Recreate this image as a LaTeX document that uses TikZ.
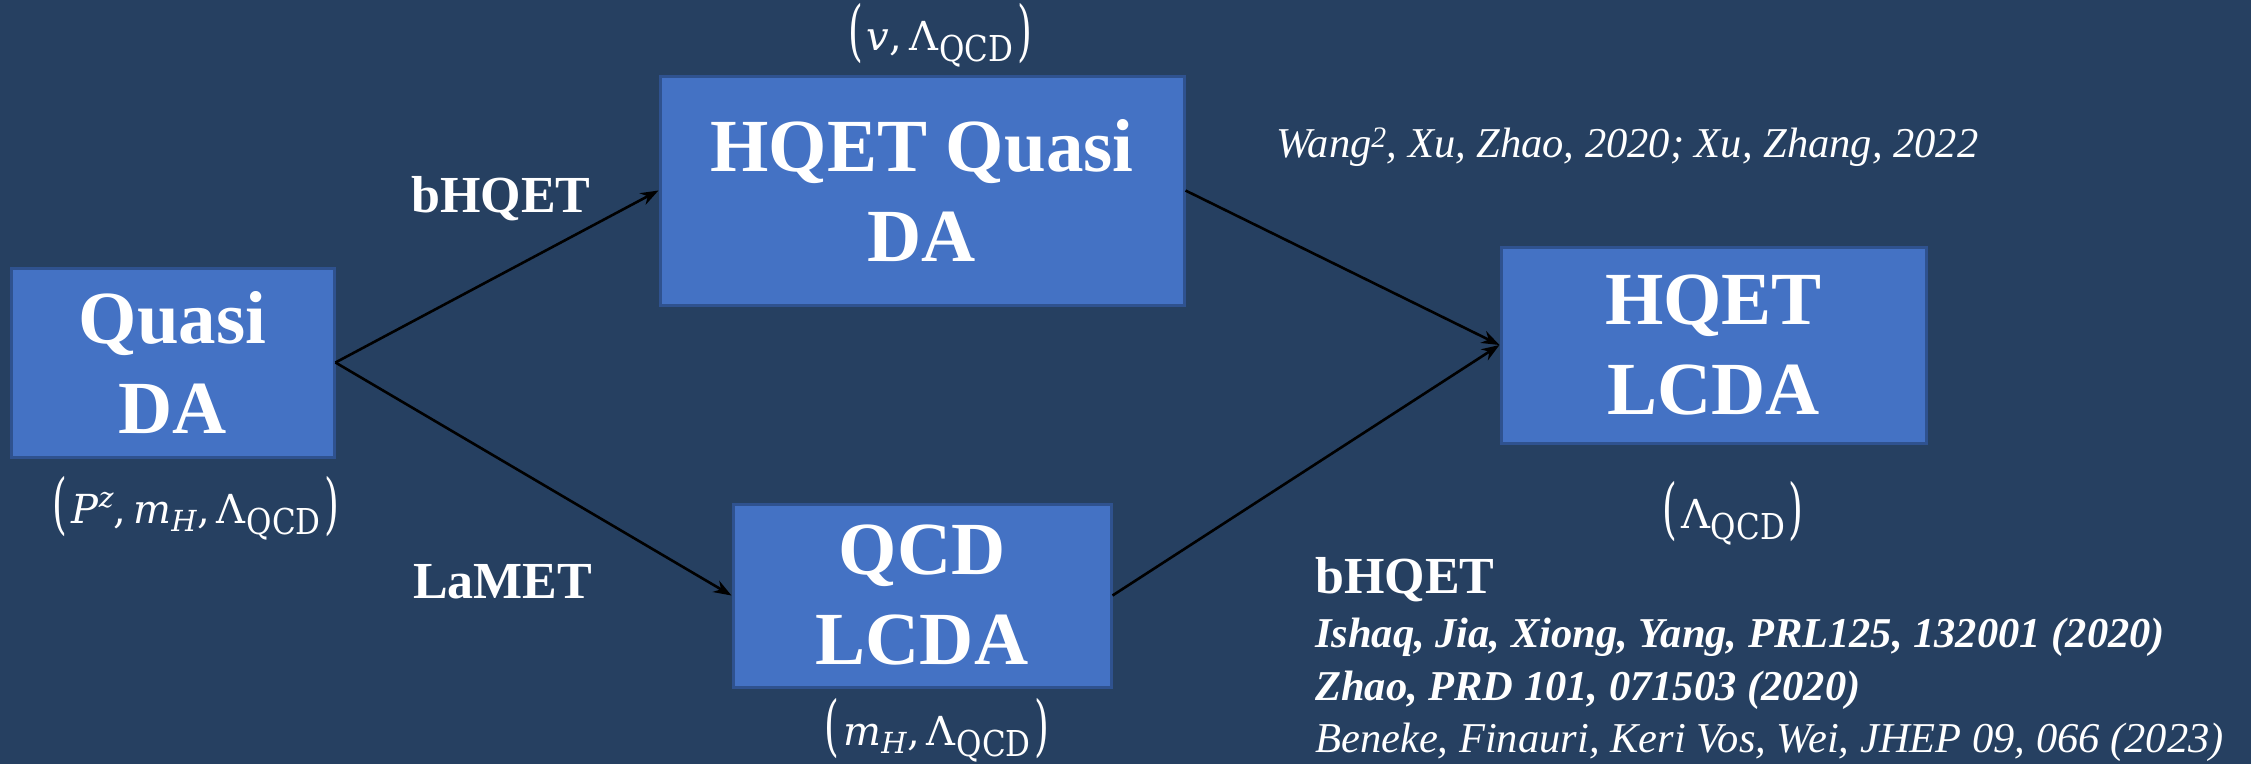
\documentclass[tikz,border=0pt]{standalone}
\usepackage{graphicx}
\usepackage{fontspec}
\setmainfont{Liberation Serif}
\newfontfamily\mathf{DejaVu Serif}
\usetikzlibrary{arrows.meta}
\definecolor{bg}{HTML}{264061}
\definecolor{boxfill}{HTML}{4472C4}
\definecolor{boxline}{HTML}{2F528F}
\newcommand\mylp{\raisebox{-3pt}{\scalebox{0.95}[1.65]{(}}\kern4pt}
\newcommand\myrp{\kern4pt\raisebox{-3pt}{\scalebox{0.95}[1.65]{)}}}
\newcommand\mysub[2][8pt]{\raisebox{-#1}{\fontsize{29}{29}\selectfont #2}}
\newcommand\mysup[1]{\raisebox{16pt}{\fontsize{28}{28}\selectfont #1}}
\newcommand\mycomma{,\kern7pt}
\newcommand\lqcd{Λ\kern1pt\raisebox{-11pt}{\scalebox{1}[1.15]{\fontsize{31}{31}\selectfont QCD}}}
\begin{document}
\begin{tikzpicture}[x=1pt,y=-1pt,
  box/.style={draw=boxline,line width=3pt,fill=boxfill,text=white,
    font=\bfseries\fontsize{75}{90}\selectfont,align=center,inner sep=0pt},
  conn/.style={line width=2.6pt,draw=black,-{Stealth[length=18pt,width=13pt]}},
  lbl/.style={text=white,inner sep=0pt},
  mathlbl/.style={lbl,anchor=base,font=\mathf\fontsize{40}{48}\selectfont},
  edgelbl/.style={lbl,anchor=base west,font=\bfseries\fontsize{52}{60}\selectfont},
  reflbl/.style={lbl,anchor=base west}]
\fill[bg] (0,0) rectangle (2251,764);
\useasboundingbox (0,0) rectangle (2251,764);

\node[box,minimum width=323pt,minimum height=189pt] (qda) at (172.5,362.5) {Quasi\\DA};
\node[box,minimum width=524pt,minimum height=229pt] (hqda) at (922,190.5) {HQET Quasi\\DA};
\node[box,minimum width=425pt,minimum height=196pt] (hlcda) at (1713.5,345) {HQET\\LCDA};
\node[box,minimum width=378pt,minimum height=183pt] (qlcda) at (922,595.5) {QCD\\LCDA};

\draw[conn] (qda.east) -- (hqda.west);
\draw[conn] (qda.east) -- (qlcda.west);
\draw[conn] (hqda.east) -- (hlcda.west);
\draw[conn] (qlcda.east) -- (hlcda.west);

\node[mathlbl] (s1) at (940,50) {\mylp\textit{v}\mycomma\lqcd\myrp};
\node[mathlbl] (s2) at (196,523) {\mylp\textit{P}\mysup{\textit{z}}\mycomma\textit{m}\mysub{\textit{H}}\mycomma\lqcd\myrp};
\node[mathlbl] (s3) at (937,745) {\mylp\textit{m}\mysub{\textit{H}}\mycomma\lqcd\myrp};
\node[mathlbl] (s4) at (1733,528) {\mylp\lqcd\myrp};

\node[edgelbl] (e1) at (411,212) {bHQET};
\node[edgelbl] (e2) at (413,598) {LaMET};

\node[reflbl,font=\itshape\fontsize{42.5}{53}\selectfont] (r0) at (1276,157) {Wang\textsuperscript{2}, Xu, Zhao, 2020; Xu, Zhang, 2022};
\node[reflbl,font=\bfseries\fontsize{52}{53}\selectfont] (r1) at (1315,593) {bHQET};
\node[reflbl,font=\bfseries\itshape\fontsize{42.5}{53}\selectfont] (r2) at (1315,647) {Ishaq, Jia, Xiong, Yang, PRL125, 132001 (2020)};
\node[reflbl,font=\bfseries\itshape\fontsize{42.5}{53}\selectfont] (r3) at (1315,700) {Zhao, PRD 101, 071503 (2020)};
\node[reflbl,font=\itshape\fontsize{42.5}{53}\selectfont] (r4) at (1315,752) {Beneke, Finauri, Keri Vos, Wei, JHEP 09, 066 (2023)};
\end{tikzpicture}
\end{document}
